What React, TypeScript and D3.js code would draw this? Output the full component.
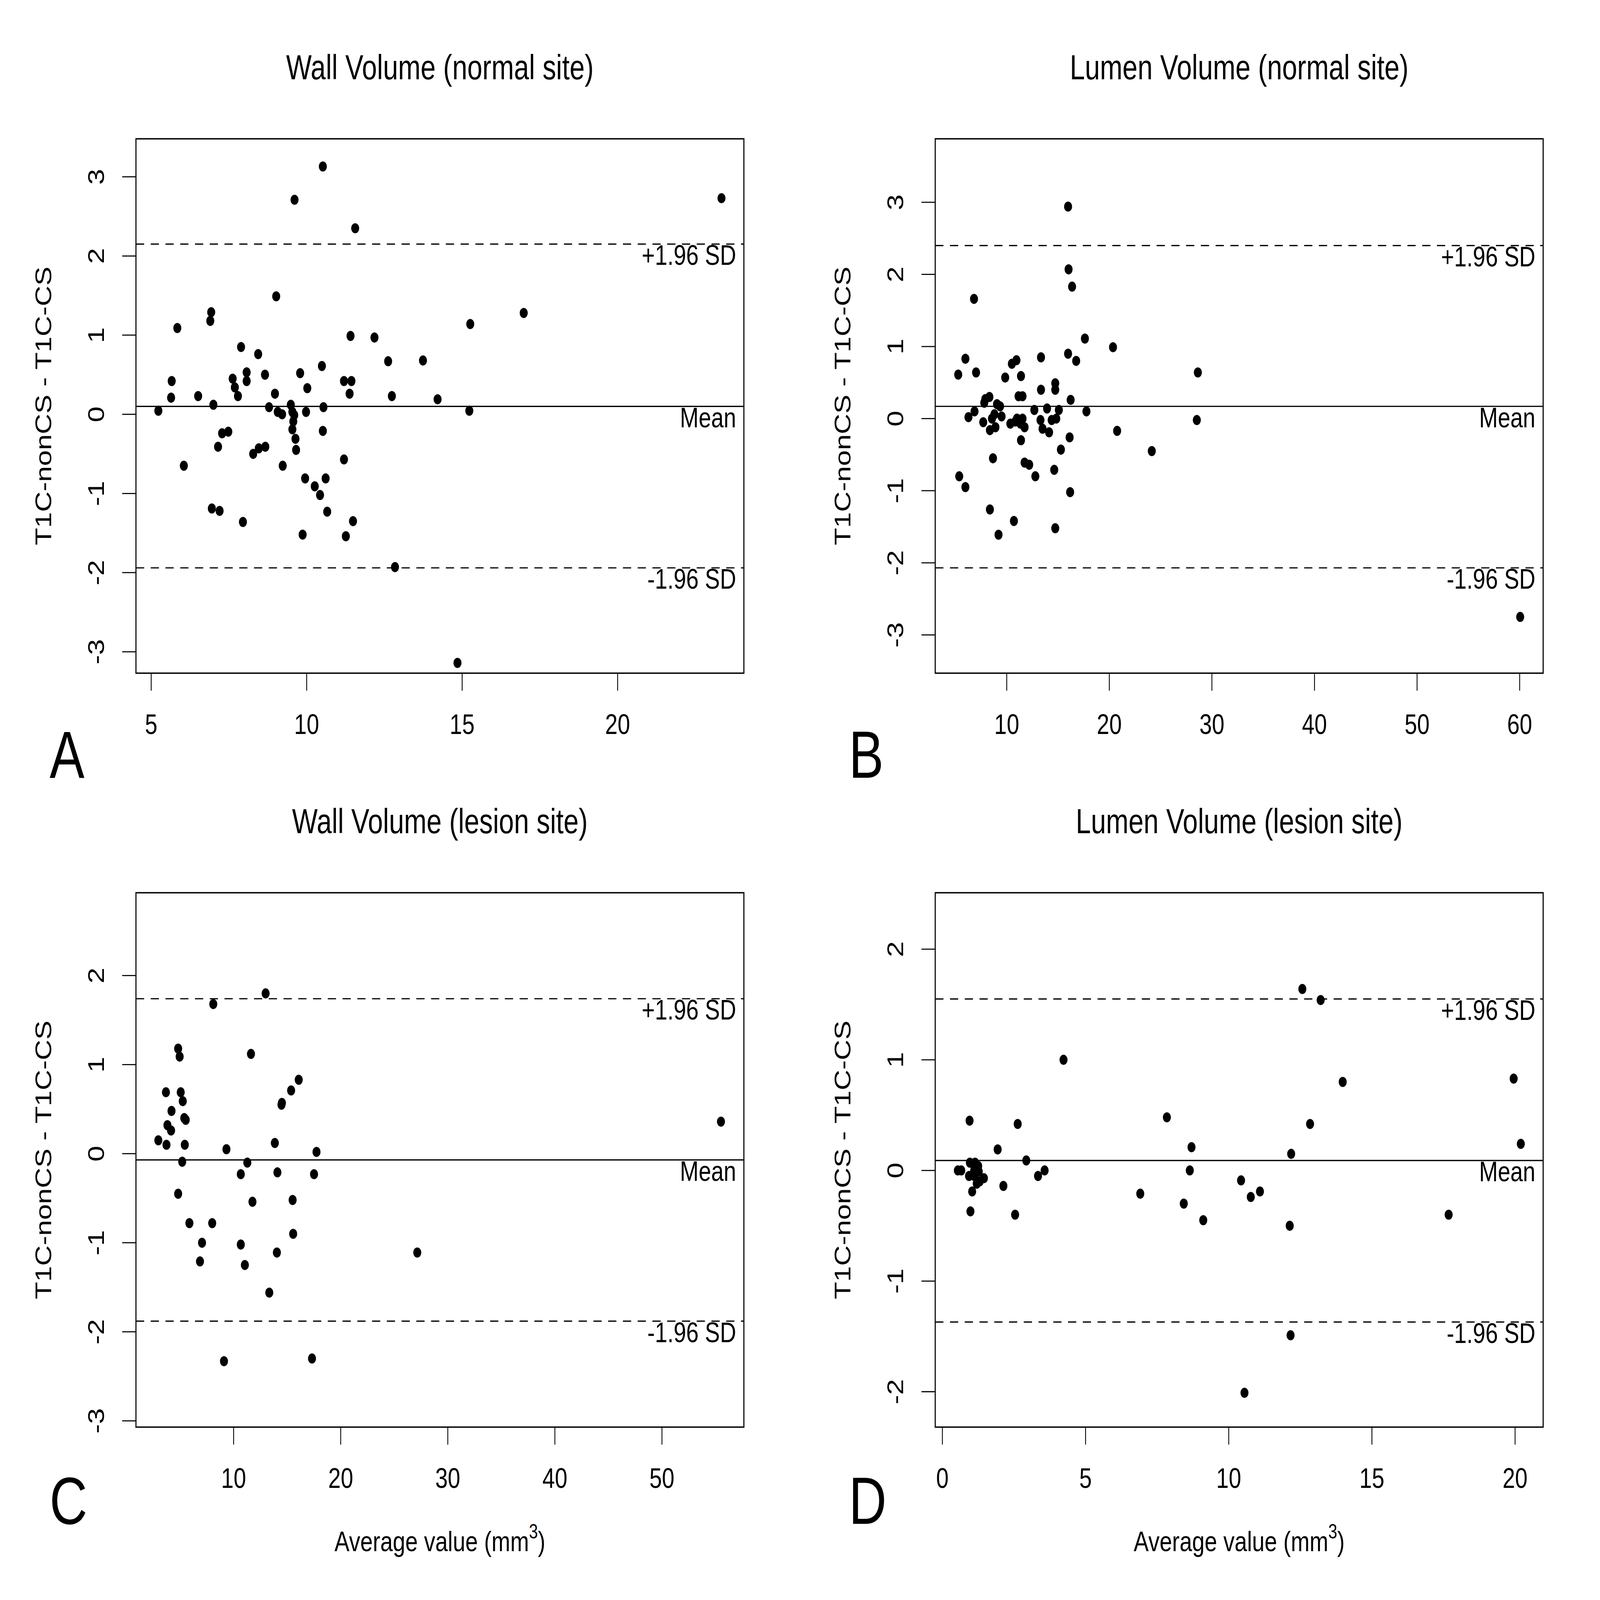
import React from 'react';
import * as d3 from 'd3';

// Panel A: wall volume, normal site
const wallNormalAvg = [5.23, 5.66, 5.64, 5.84, 6.05, 6.51, 6.93, 6.9, 7.0, 6.95, 7.2, 7.15, 7.28, 7.48, 7.62, 7.69, 7.79, 7.89, 7.95, 8.07, 8.07, 8.28, 8.44, 8.46, 8.67, 8.66, 8.79, 8.98, 9.02, 9.07, 9.21, 9.23, 9.49, 9.54, 9.6, 9.57, 9.54, 9.64, 9.66, 9.61, 9.79, 9.98, 10.02, 9.95, 9.87, 10.26, 10.43, 10.49, 10.54, 10.52, 10.52, 10.61, 10.66, 11.2, 11.2, 11.26, 11.38, 11.41, 11.44, 11.49, 11.56, 12.18, 12.62, 12.74, 12.84, 13.74, 14.21, 14.85, 15.23, 15.26, 16.98, 23.34];
const wallNormalDiff = [0.045, 0.42, 0.21, 1.09, -0.65, 0.23, 1.29, 1.18, 0.12, -1.19, -1.22, -0.41, -0.24, -0.22, 0.45, 0.34, 0.23, 0.85, -1.36, 0.53, 0.42, -0.5, 0.76, -0.43, -0.41, 0.5, 0.09, 0.26, 1.49, 0.03, 0.0, -0.65, 0.12, 0.03, -0.01, -0.09, -0.19, -0.31, -0.45, 2.71, 0.52, 0.03, 0.33, -0.81, -1.52, -0.91, -1.02, 0.61, 0.09, -0.21, 3.13, -0.81, -1.23, 0.42, -0.57, -1.54, 0.26, 0.99, 0.42, -1.35, 2.35, 0.97, 0.67, 0.23, -1.93, 0.68, 0.19, -3.14, 0.045, 1.14, 1.28, 2.73];

// Panel B: lumen volume, normal site
const lumenNormalAvg = [5.27, 5.97, 5.37, 5.97, 6.27, 6.81, 6.86, 7.01, 7.71, 7.81, 7.91, 8.31, 8.36, 8.36, 8.56, 8.66, 8.8, 8.9, 9.05, 9.2, 9.35, 9.5, 9.85, 10.35, 10.5, 10.7, 10.85, 10.95, 11.0, 11.15, 11.34, 11.39, 11.39, 11.54, 11.54, 11.74, 11.74, 12.19, 12.69, 12.79, 13.29, 13.34, 13.34, 13.49, 13.93, 14.13, 14.38, 14.63, 14.73, 14.73, 14.73, 14.83, 15.08, 15.28, 15.98, 16.03, 15.98, 16.13, 16.18, 16.23, 16.37, 16.77, 17.62, 17.77, 20.36, 20.76, 24.14, 28.63, 28.53, 60.05];
const lumenNormalDiff = [0.61, 0.83, -0.8, -0.95, 0.02, 1.66, 0.1, 0.64, -0.05, 0.22, 0.27, 0.3, -0.16, -1.26, 0.0, -0.55, 0.06, -0.12, 0.2, -1.61, 0.17, 0.03, 0.57, -0.07, 0.76, -1.42, -0.04, 0.81, 0.0, 0.31, -0.07, 0.59, -0.3, 0.31, 0.0, -0.12, -0.61, -0.64, 0.12, -0.8, -0.02, 0.85, 0.4, -0.14, 0.14, -0.19, -0.02, -0.71, 0.49, 0.4, -1.52, 0.0, 0.12, -0.43, 2.94, 2.07, 0.9, -0.26, -1.02, 0.26, 1.83, 0.8, 1.11, 0.1, 0.99, -0.17, -0.45, 0.64, -0.02, -2.75];

// Panel C: wall volume, lesion site
const wallLesionAvg = [2.97, 3.68, 3.73, 3.82, 4.16, 4.2, 4.82, 4.96, 4.82, 5.06, 5.25, 5.2, 5.39, 5.53, 5.44, 5.87, 6.86, 7.05, 8.0, 8.1, 9.1, 9.33, 10.67, 10.67, 11.05, 11.28, 11.62, 11.76, 12.99, 13.33, 13.85, 14.04, 14.09, 14.47, 14.51, 15.37, 15.51, 15.56, 16.08, 17.32, 17.51, 17.74, 27.15, 55.51];
const wallLesionDiff = [0.15, 0.69, 0.1, 0.32, 0.26, 0.48, 1.18, 1.09, -0.45, 0.69, 0.59, -0.09, 0.4, 0.38, 0.1, -0.78, -1.21, -1.0, -0.78, 1.68, -2.33, 0.05, -0.23, -1.02, -1.25, -0.1, 1.12, -0.54, 1.8, -1.56, 0.12, -1.11, -0.21, 0.55, 0.57, 0.71, -0.52, -0.9, 0.83, -2.3, -0.23, 0.02, -1.11, 0.36];

// Panel D: lumen volume, lesion site
const lumenLesionAvg = [0.54, 0.66, 0.95, 0.93, 0.96, 0.98, 1.04, 1.11, 1.14, 1.11, 1.2, 1.25, 1.27, 1.3, 1.45, 1.93, 2.13, 2.54, 2.63, 2.93, 3.34, 3.57, 4.23, 6.91, 7.84, 8.43, 8.64, 8.7, 9.11, 10.43, 10.55, 10.77, 11.09, 12.13, 12.18, 12.16, 12.57, 12.84, 13.21, 13.98, 17.68, 19.95, 20.2];
const lumenLesionDiff = [0.0, 0.0, 0.45, -0.05, 0.07, -0.37, -0.19, 0.0, 0.07, -0.05, -0.12, 0.04, -0.01, -0.1, -0.07, 0.19, -0.14, -0.4, 0.42, 0.09, -0.05, 0.0, 1.0, -0.21, 0.48, -0.3, 0.0, 0.21, -0.45, -0.09, -2.01, -0.24, -0.19, -0.5, 0.15, -1.49, 1.64, 0.42, 1.54, 0.8, -0.4, 0.83, 0.24];

const panelTitles = ['Wall Volume (normal site)', 'Lumen Volume (normal site)', 'Wall Volume (lesion site)', 'Lumen Volume (lesion site)'];
const panelLetters = ['A', 'B', 'C', 'D'];
// mean, +1.96 SD, -1.96 SD
const meanDiff = [0.10, 0.17, -0.07, 0.09];
const upperLimit = [2.15, 2.40, 1.74, 1.55];
const lowerLimit = [-1.94, -2.07, -1.88, -1.37];
const xTickValues = [[5, 10, 15, 20], [10, 20, 30, 40, 50, 60], [10, 20, 30, 40, 50], [0, 5, 10, 15, 20]];
const yTickValues = [[-3, -2, -1, 0, 1, 2, 3], [-3, -2, -1, 0, 1, 2, 3], [-3, -2, -1, 0, 1, 2], [-2, -1, 0, 1, 2]];
const xDomains: [number, number][] = [[4.51, 24.06], [3.03, 62.29], [0.88, 57.65], [-0.25, 20.98]];
const yDomains: [number, number][] = [[-3.27, 3.48], [-3.53, 3.88], [-3.07, 2.93], [-2.32, 2.51]];

const W = 6614;
const H = 5210;
const FONT = '"Liberation Sans", Arial, Helvetica, sans-serif';

interface PanelProps {
  idx: number;
  xs: number[];
  ys: number[];
  ox: number;
  oy: number;
  xlab: boolean;
}

function Panel({ idx, xs, ys, ox, oy, xlab }: PanelProps) {
  const left = ox + 562;
  const right = ox + 3075;
  const top = oy + 452;
  const bottom = oy + 2192;

  const x = d3.scaleLinear().domain(xDomains[idx]).range([left, right]);
  const y = d3.scaleLinear().domain(yDomains[idx]).range([bottom, top]);

  const tick = 57;
  const fs = 93;
  const labelX = right - 32;
  const refLines = [
    { v: upperLimit[idx], dash: '34 27', label: '+1.96 SD' },
    { v: meanDiff[idx], dash: null, label: 'Mean' },
    { v: lowerLimit[idx], dash: '34 27', label: '-1.96 SD' },
  ];
  const letterY = oy === 0 ? 2533 : 4962;

  return (
    <g fontFamily={FONT} fill="#000">
      <text x={(left + right) / 2} y={top - 194} fontSize={112} textAnchor="middle">
        {panelTitles[idx]}
      </text>

      {refLines.map((r, i) => (
        <g key={i}>
          <line x1={left} x2={right} y1={y(r.v)} y2={y(r.v)} stroke="#000" strokeWidth={4}
            strokeDasharray={r.dash ?? undefined} />
          <text x={labelX} y={y(r.v) + 68} fontSize={fs} textAnchor="end">{r.label}</text>
        </g>
      ))}

      {xs.map((v, i) => (
        <circle key={i} cx={x(v)} cy={y(ys[i])} r={16.5} fill="#000" />
      ))}

      <rect x={left} y={top} width={right - left} height={bottom - top} fill="none" stroke="#000" strokeWidth={4.5} />

      {xTickValues[idx].map(t => (
        <g key={'x' + t}>
          <line x1={x(t)} x2={x(t)} y1={bottom} y2={bottom + tick} stroke="#000" strokeWidth={3.5} />
          <text x={x(t)} y={bottom + 198} fontSize={fs} textAnchor="middle">{t}</text>
        </g>
      ))}

      {yTickValues[idx].map(t => (
        <g key={'y' + t}>
          <line x1={left - tick} x2={left} y1={y(t)} y2={y(t)} stroke="#000" strokeWidth={3.5} />
          <text transform={`translate(${left - 132},${y(t)}) rotate(-90)`} fontSize={fs} textAnchor="middle">{t}</text>
        </g>
      ))}

      <text transform={`translate(${left - 350},${(top + bottom) / 2}) rotate(-90)`} fontSize={fs} textAnchor="middle">
        T1C-nonCS - T1C-CS
      </text>

      {xlab && (
        <text x={(left + right) / 2} y={bottom + 404} fontSize={fs} textAnchor="middle">
          Average value (mm<tspan fontSize={66} dy={-42}>3</tspan><tspan dy={42}>)</tspan>
        </text>
      )}

      <text x={ox + 205} y={letterY} fontSize={216}>{panelLetters[idx]}</text>
    </g>
  );
}

export default function App() {
  // the drawing is laid out in the 6614x5210 pixel space and stretched to fill the window
  return (
    <div style={{ position: 'fixed', left: 0, top: 0, width: '100vw', height: '100vh', background: '#fff' }}>
      <svg width="100%" height="100%" viewBox={`0 0 ${W} ${H}`} preserveAspectRatio="none" style={{ display: 'block' }}>
        <rect width={W} height={H} fill="#fff" />
        <Panel idx={0} xs={wallNormalAvg} ys={wallNormalDiff} ox={0} oy={0} xlab={false} />
        <Panel idx={1} xs={lumenNormalAvg} ys={lumenNormalDiff} ox={3304} oy={0} xlab={false} />
        <Panel idx={2} xs={wallLesionAvg} ys={wallLesionDiff} ox={0} oy={2455} xlab={true} />
        <Panel idx={3} xs={lumenLesionAvg} ys={lumenLesionDiff} ox={3304} oy={2455} xlab={true} />
      </svg>
    </div>
  );
}
